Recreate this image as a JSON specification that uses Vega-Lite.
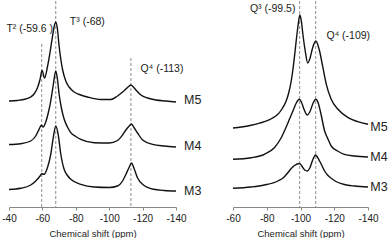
{
  "$schema": "https://vega.github.io/schema/vega-lite/v6.json",
  "padding": {"left": 1, "top": 0, "right": 0, "bottom": 0},
  "spacing": 57,
  "bounds": "flush",
  "config": {
    "view": {"stroke": null},
    "font": "Liberation Sans",
    "axis": {
      "domainColor": "#888888", "tickColor": "#888888", "tickSize": 3,
      "labelFont": "Liberation Sans", "labelFontSize": 10, "labelColor": "#222222", "labelPadding": 3, "labelFlush": false,
      "titleFont": "Liberation Sans", "titleFontSize": 9.5, "titleFontWeight": "normal", "titleColor": "#222222", "titlePadding": 5,
      "grid": false
    }
  },
  "datasets": {
    "left": [
      {"sample": "M5", "ppm": -40, "intensity": 106},
      {"sample": "M5", "ppm": -45, "intensity": 106.5},
      {"sample": "M5", "ppm": -50, "intensity": 108},
      {"sample": "M5", "ppm": -53, "intensity": 110},
      {"sample": "M5", "ppm": -55, "intensity": 113},
      {"sample": "M5", "ppm": -57, "intensity": 119},
      {"sample": "M5", "ppm": -58.5, "intensity": 127},
      {"sample": "M5", "ppm": -59.8, "intensity": 136.5},
      {"sample": "M5", "ppm": -61.3, "intensity": 129},
      {"sample": "M5", "ppm": -63, "intensity": 140},
      {"sample": "M5", "ppm": -64.5, "intensity": 154},
      {"sample": "M5", "ppm": -66, "intensity": 170},
      {"sample": "M5", "ppm": -67, "intensity": 180},
      {"sample": "M5", "ppm": -68, "intensity": 185},
      {"sample": "M5", "ppm": -69, "intensity": 178},
      {"sample": "M5", "ppm": -70, "intensity": 161},
      {"sample": "M5", "ppm": -71, "intensity": 148},
      {"sample": "M5", "ppm": -72, "intensity": 138},
      {"sample": "M5", "ppm": -74, "intensity": 126},
      {"sample": "M5", "ppm": -76, "intensity": 120},
      {"sample": "M5", "ppm": -79, "intensity": 115},
      {"sample": "M5", "ppm": -83, "intensity": 112},
      {"sample": "M5", "ppm": -87, "intensity": 110},
      {"sample": "M5", "ppm": -95, "intensity": 107.5},
      {"sample": "M5", "ppm": -101, "intensity": 107.5},
      {"sample": "M5", "ppm": -105, "intensity": 111},
      {"sample": "M5", "ppm": -108, "intensity": 115},
      {"sample": "M5", "ppm": -110, "intensity": 118},
      {"sample": "M5", "ppm": -112, "intensity": 121},
      {"sample": "M5", "ppm": -113, "intensity": 122},
      {"sample": "M5", "ppm": -114.5, "intensity": 120},
      {"sample": "M5", "ppm": -116, "intensity": 117},
      {"sample": "M5", "ppm": -119, "intensity": 112},
      {"sample": "M5", "ppm": -123, "intensity": 109},
      {"sample": "M5", "ppm": -128, "intensity": 107},
      {"sample": "M5", "ppm": -134, "intensity": 106},
      {"sample": "M5", "ppm": -140, "intensity": 105},
      {"sample": "M4", "ppm": -40, "intensity": 62.5},
      {"sample": "M4", "ppm": -47, "intensity": 63.3},
      {"sample": "M4", "ppm": -53, "intensity": 66},
      {"sample": "M4", "ppm": -56, "intensity": 71},
      {"sample": "M4", "ppm": -58, "intensity": 77.7},
      {"sample": "M4", "ppm": -59.4, "intensity": 81.7},
      {"sample": "M4", "ppm": -60.4, "intensity": 80},
      {"sample": "M4", "ppm": -62, "intensity": 85},
      {"sample": "M4", "ppm": -63.5, "intensity": 94},
      {"sample": "M4", "ppm": -65, "intensity": 106},
      {"sample": "M4", "ppm": -66.5, "intensity": 122},
      {"sample": "M4", "ppm": -68, "intensity": 136},
      {"sample": "M4", "ppm": -69, "intensity": 128},
      {"sample": "M4", "ppm": -70, "intensity": 113},
      {"sample": "M4", "ppm": -71.5, "intensity": 98},
      {"sample": "M4", "ppm": -73, "intensity": 88},
      {"sample": "M4", "ppm": -75, "intensity": 80},
      {"sample": "M4", "ppm": -77, "intensity": 74.3},
      {"sample": "M4", "ppm": -80, "intensity": 70.5},
      {"sample": "M4", "ppm": -83, "intensity": 67.7},
      {"sample": "M4", "ppm": -91, "intensity": 64.3},
      {"sample": "M4", "ppm": -100, "intensity": 64},
      {"sample": "M4", "ppm": -105, "intensity": 66.5},
      {"sample": "M4", "ppm": -108, "intensity": 72},
      {"sample": "M4", "ppm": -110, "intensity": 77},
      {"sample": "M4", "ppm": -112, "intensity": 81},
      {"sample": "M4", "ppm": -113.3, "intensity": 83},
      {"sample": "M4", "ppm": -115, "intensity": 79},
      {"sample": "M4", "ppm": -117, "intensity": 74},
      {"sample": "M4", "ppm": -120, "intensity": 67},
      {"sample": "M4", "ppm": -126, "intensity": 62.7},
      {"sample": "M4", "ppm": -133, "intensity": 61},
      {"sample": "M4", "ppm": -140, "intensity": 60},
      {"sample": "M3", "ppm": -40, "intensity": 17.5},
      {"sample": "M3", "ppm": -47, "intensity": 18.7},
      {"sample": "M3", "ppm": -53, "intensity": 22},
      {"sample": "M3", "ppm": -56, "intensity": 26},
      {"sample": "M3", "ppm": -58.6, "intensity": 31},
      {"sample": "M3", "ppm": -59.6, "intensity": 33.3},
      {"sample": "M3", "ppm": -61, "intensity": 32.7},
      {"sample": "M3", "ppm": -63, "intensity": 39.3},
      {"sample": "M3", "ppm": -65, "intensity": 52.7},
      {"sample": "M3", "ppm": -66.5, "intensity": 69.3},
      {"sample": "M3", "ppm": -68, "intensity": 81},
      {"sample": "M3", "ppm": -69.4, "intensity": 73},
      {"sample": "M3", "ppm": -71, "intensity": 53},
      {"sample": "M3", "ppm": -73, "intensity": 37.7},
      {"sample": "M3", "ppm": -75, "intensity": 31.5},
      {"sample": "M3", "ppm": -77, "intensity": 27.7},
      {"sample": "M3", "ppm": -83, "intensity": 22.7},
      {"sample": "M3", "ppm": -91, "intensity": 20},
      {"sample": "M3", "ppm": -100, "intensity": 19.5},
      {"sample": "M3", "ppm": -105, "intensity": 21},
      {"sample": "M3", "ppm": -108, "intensity": 26},
      {"sample": "M3", "ppm": -110, "intensity": 32.7},
      {"sample": "M3", "ppm": -112, "intensity": 40},
      {"sample": "M3", "ppm": -113.3, "intensity": 44},
      {"sample": "M3", "ppm": -115, "intensity": 38},
      {"sample": "M3", "ppm": -117, "intensity": 29},
      {"sample": "M3", "ppm": -120.5, "intensity": 22},
      {"sample": "M3", "ppm": -126.5, "intensity": 17.7},
      {"sample": "M3", "ppm": -133, "intensity": 16.5},
      {"sample": "M3", "ppm": -140, "intensity": 16}
    ],
    "right": [
      {"sample": "M5", "ppm": -60, "intensity": 79},
      {"sample": "M5", "ppm": -65, "intensity": 80},
      {"sample": "M5", "ppm": -70.7, "intensity": 81.7},
      {"sample": "M5", "ppm": -78.6, "intensity": 85.3},
      {"sample": "M5", "ppm": -83, "intensity": 88.5},
      {"sample": "M5", "ppm": -86.6, "intensity": 92.7},
      {"sample": "M5", "ppm": -89, "intensity": 98},
      {"sample": "M5", "ppm": -91.5, "intensity": 106},
      {"sample": "M5", "ppm": -93, "intensity": 114},
      {"sample": "M5", "ppm": -94.5, "intensity": 126},
      {"sample": "M5", "ppm": -95.7, "intensity": 140},
      {"sample": "M5", "ppm": -96.8, "intensity": 156},
      {"sample": "M5", "ppm": -97.7, "intensity": 170},
      {"sample": "M5", "ppm": -98.6, "intensity": 182},
      {"sample": "M5", "ppm": -99.6, "intensity": 192},
      {"sample": "M5", "ppm": -100.5, "intensity": 186},
      {"sample": "M5", "ppm": -101.4, "intensity": 173},
      {"sample": "M5", "ppm": -102.8, "intensity": 156},
      {"sample": "M5", "ppm": -104.3, "intensity": 144},
      {"sample": "M5", "ppm": -105.5, "intensity": 148},
      {"sample": "M5", "ppm": -107, "intensity": 158},
      {"sample": "M5", "ppm": -108.3, "intensity": 164.3},
      {"sample": "M5", "ppm": -109.2, "intensity": 166},
      {"sample": "M5", "ppm": -110.3, "intensity": 162},
      {"sample": "M5", "ppm": -111.3, "intensity": 156},
      {"sample": "M5", "ppm": -113.3, "intensity": 139.3},
      {"sample": "M5", "ppm": -115.3, "intensity": 122.7},
      {"sample": "M5", "ppm": -118.2, "intensity": 107.7},
      {"sample": "M5", "ppm": -122.2, "intensity": 97.7},
      {"sample": "M5", "ppm": -128.2, "intensity": 89.3},
      {"sample": "M5", "ppm": -134, "intensity": 85.3},
      {"sample": "M5", "ppm": -140, "intensity": 82.7},
      {"sample": "M4", "ppm": -60, "intensity": 47.7},
      {"sample": "M4", "ppm": -70.7, "intensity": 49.3},
      {"sample": "M4", "ppm": -78.6, "intensity": 52.7},
      {"sample": "M4", "ppm": -84.5, "intensity": 59.3},
      {"sample": "M4", "ppm": -88.5, "intensity": 69},
      {"sample": "M4", "ppm": -91.5, "intensity": 80},
      {"sample": "M4", "ppm": -93.5, "intensity": 88},
      {"sample": "M4", "ppm": -95.5, "intensity": 96},
      {"sample": "M4", "ppm": -97.5, "intensity": 104},
      {"sample": "M4", "ppm": -99.3, "intensity": 107.7},
      {"sample": "M4", "ppm": -100.5, "intensity": 105},
      {"sample": "M4", "ppm": -102, "intensity": 98},
      {"sample": "M4", "ppm": -104, "intensity": 92},
      {"sample": "M4", "ppm": -105.5, "intensity": 95},
      {"sample": "M4", "ppm": -107.5, "intensity": 104},
      {"sample": "M4", "ppm": -109, "intensity": 107.7},
      {"sample": "M4", "ppm": -110.5, "intensity": 104},
      {"sample": "M4", "ppm": -112, "intensity": 94},
      {"sample": "M4", "ppm": -114.3, "intensity": 76},
      {"sample": "M4", "ppm": -116, "intensity": 69},
      {"sample": "M4", "ppm": -118.2, "intensity": 61},
      {"sample": "M4", "ppm": -122, "intensity": 56},
      {"sample": "M4", "ppm": -126, "intensity": 52.7},
      {"sample": "M4", "ppm": -132, "intensity": 51},
      {"sample": "M4", "ppm": -140, "intensity": 50},
      {"sample": "M3", "ppm": -60, "intensity": 18.7},
      {"sample": "M3", "ppm": -70.7, "intensity": 20},
      {"sample": "M3", "ppm": -78.6, "intensity": 22},
      {"sample": "M3", "ppm": -86.6, "intensity": 26},
      {"sample": "M3", "ppm": -90, "intensity": 29.5},
      {"sample": "M3", "ppm": -92.5, "intensity": 34.3},
      {"sample": "M3", "ppm": -94.5, "intensity": 38.5},
      {"sample": "M3", "ppm": -96.4, "intensity": 41.5},
      {"sample": "M3", "ppm": -99.3, "intensity": 43.5},
      {"sample": "M3", "ppm": -100.8, "intensity": 41},
      {"sample": "M3", "ppm": -102.5, "intensity": 37},
      {"sample": "M3", "ppm": -104, "intensity": 36},
      {"sample": "M3", "ppm": -105.5, "intensity": 39},
      {"sample": "M3", "ppm": -107, "intensity": 46},
      {"sample": "M3", "ppm": -108.9, "intensity": 52},
      {"sample": "M3", "ppm": -110, "intensity": 50},
      {"sample": "M3", "ppm": -111.3, "intensity": 46},
      {"sample": "M3", "ppm": -112.8, "intensity": 41},
      {"sample": "M3", "ppm": -114.3, "intensity": 36},
      {"sample": "M3", "ppm": -116, "intensity": 32},
      {"sample": "M3", "ppm": -118.2, "intensity": 28.7},
      {"sample": "M3", "ppm": -121, "intensity": 25.5},
      {"sample": "M3", "ppm": -124.2, "intensity": 23.3},
      {"sample": "M3", "ppm": -128, "intensity": 21.7},
      {"sample": "M3", "ppm": -132, "intensity": 21},
      {"sample": "M3", "ppm": -140, "intensity": 20}
    ],
    "leftRules": [
      {"ppm": -59.6, "top": 163, "bottom": 0},
      {"ppm": -68, "top": 206, "bottom": 0},
      {"ppm": -113, "top": 149, "bottom": 0}
    ],
    "rightRules": [
      {"ppm": -99.5, "top": 206, "bottom": 0},
      {"ppm": -109, "top": 206, "bottom": 0}
    ],
    "leftPeaks": [
      {"label": "T² (-59.6 )", "ppm": -52.4, "intensity": 178},
      {"label": "T³ (-68)", "ppm": -86.9, "intensity": 185.5},
      {"label": "Q⁴ (-113)", "ppm": -131.6, "intensity": 138}
    ],
    "rightPeaks": [
      {"label": "Q³ (-99.5)", "ppm": -83.5, "intensity": 198.5},
      {"label": "Q⁴ (-109)", "ppm": -128.3, "intensity": 171.5}
    ],
    "leftNames": [
      {"sample": "M5", "ppm": -144.8, "intensity": 107},
      {"sample": "M4", "ppm": -144.8, "intensity": 61},
      {"sample": "M3", "ppm": -144.8, "intensity": 16}
    ],
    "rightNames": [
      {"sample": "M5", "ppm": -141.4, "intensity": 80},
      {"sample": "M4", "ppm": -141.4, "intensity": 50},
      {"sample": "M3", "ppm": -141.4, "intensity": 20}
    ]
  },
  "hconcat": [
    {
      "width": 167,
      "height": 206,
      "encoding": {
        "x": {"field": "ppm", "type": "quantitative",
          "scale": {"domain": [-140, -40], "reverse": true, "nice": false, "zero": false},
          "axis": {"values": [-40, -60, -80, -100, -120, -140], "labelExpr": "'' + datum.value", "title": "Chemical shift (ppm)"}},
        "y": {"field": "intensity", "type": "quantitative",
          "scale": {"domain": [0, 206], "nice": false, "zero": false}, "axis": null}
      },
      "layer": [
        {
          "data": {"name": "leftRules"},
          "mark": {"type": "rule", "color": "#8c8c8c", "strokeWidth": 1, "strokeDash": [3, 2]},
          "encoding": {"y": {"field": "top", "type": "quantitative"}, "y2": {"field": "bottom"}}
        },
        {
          "data": {"name": "left"},
          "mark": {"type": "line", "color": "#111111", "strokeWidth": 1.4, "interpolate": "monotone", "clip": false},
          "encoding": {"detail": {"field": "sample"}}
        },
        {
          "data": {"name": "leftPeaks"},
          "mark": {"type": "text", "fontSize": 10.5, "color": "#222222", "align": "center", "baseline": "middle"},
          "encoding": {"text": {"field": "label"}}
        },
        {
          "data": {"name": "leftNames"},
          "mark": {"type": "text", "fontSize": 12.5, "color": "#222222", "align": "left", "baseline": "middle"},
          "encoding": {"text": {"field": "sample"}}
        }
      ]
    },
    {
      "width": 135,
      "height": 206,
      "encoding": {
        "x": {"field": "ppm", "type": "quantitative",
          "scale": {"domain": [-140, -60], "reverse": true, "nice": false, "zero": false},
          "axis": {"values": [-60, -80, -100, -120, -140], "labelExpr": "'' + datum.value", "title": "Chemical shift (ppm)"}},
        "y": {"field": "intensity", "type": "quantitative",
          "scale": {"domain": [0, 206], "nice": false, "zero": false}, "axis": null}
      },
      "layer": [
        {
          "data": {"name": "rightRules"},
          "mark": {"type": "rule", "color": "#8c8c8c", "strokeWidth": 1, "strokeDash": [3, 2]},
          "encoding": {"y": {"field": "top", "type": "quantitative"}, "y2": {"field": "bottom"}}
        },
        {
          "data": {"name": "right"},
          "mark": {"type": "line", "color": "#111111", "strokeWidth": 1.4, "interpolate": "monotone", "clip": false},
          "encoding": {"detail": {"field": "sample"}}
        },
        {
          "data": {"name": "rightPeaks"},
          "mark": {"type": "text", "fontSize": 10.5, "color": "#222222", "align": "center", "baseline": "middle"},
          "encoding": {"text": {"field": "label"}}
        },
        {
          "data": {"name": "rightNames"},
          "mark": {"type": "text", "fontSize": 12.5, "color": "#222222", "align": "left", "baseline": "middle"},
          "encoding": {"text": {"field": "sample"}}
        }
      ]
    }
  ]
}
